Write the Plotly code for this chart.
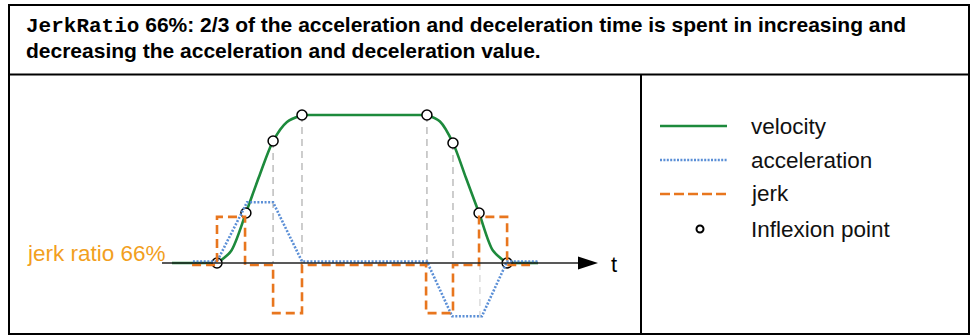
import plotly.graph_objects as go

# ---- data (time in arbitrary units, amplitudes normalised to the velocity plateau) ----
vel_t = [-1.59, 0.0, 0.49, 1.02, 1.48, 1.98, 2.47, 3.0, 7.41, 7.87, 8.33, 8.79, 9.25, 9.74, 10.24, 11.33]
vel_v = [0.0, 0.0, 0.079, 0.338, 0.581, 0.824, 0.953, 1.0, 1.0, 0.956, 0.811, 0.574, 0.338, 0.084, 0.0, 0.0]
# index ranges of the velocity profile: (start, end, curved?)
vel_segments = [(0, 1, False), (1, 7, True), (7, 8, False), (8, 14, True), (14, 15, False)]

acc_t = [-0.85, 0.0, 1.06, 1.98, 3.0, 7.41, 8.3, 9.35, 10.24, 11.33]
acc_v = [0.0, 0.0, 0.40, 0.40, 0.0, 0.0, -0.37, -0.37, 0.0, 0.0]

jerk_t = [-0.88, 0.0, 0.99, 1.98, 3.0, 7.38, 8.33, 9.25, 10.24, 11.05]
jerk_v = [0.0, 0.325, 0.0, -0.325, 0.0, -0.325, 0.0, 0.325, 0.0, 0.0]

infl_t = [0.0, 1.02, 1.98, 3.0, 7.41, 8.33, 9.25, 10.24]
infl_v = [0.0, 0.338, 0.824, 1.0, 1.0, 0.811, 0.338, 0.0]

# guide lines dropped from selected inflexion points (top, bottom)
guide_t = [1.98, 3.0, 7.41, 8.33]
guide_top = [0.824, 1.0, 1.0, 0.811]
guide_light_t = [9.28]
guide_light_v = [-0.37]

legend_labels = ["velocity", "acceleration", "jerk", "Inflexion point"]
header_mono = "JerkRatio"
header_line1 = " 66%: 2/3 of the acceleration and deceleration time is spent in increasing and"
header_line2 = "decreasing the acceleration and deceleration value."
ratio_label = "jerk ratio 66%"
axis_label = "t"

# ---- colours ----
GREEN = "#1d8a3c"
BLUE = "#5b8fd6"
ORANGE = "#e8761e"
AMBER = "#f29f1e"
GREY = "#bdbdbd"

W, H = 971, 336
X0, XS = 217.0, 28.33   # pixel of t=0, pixels per time unit
Y0, YS = 263.0, 148.0   # pixel of value 0, pixels per unit


def px(x):
    return x / W


def py(y):
    return 1 - y / H


def t_of(x):
    return (x - X0) / XS


def v_of(y):
    return (Y0 - y) / YS


fig = go.Figure()

# guide lines
for t, top in zip(guide_t, guide_top):
    fig.add_trace(go.Scatter(x=[t, t], y=[top, 0], mode="lines",
                             line=dict(color=GREY, width=1.5, dash="7px,5px"),
                             hoverinfo="skip", showlegend=False))
for t, bot in zip(guide_light_t, guide_light_v):
    fig.add_trace(go.Scatter(x=[t, t], y=[0, bot], mode="lines",
                             line=dict(color="#dcdcdc", width=1.5, dash="7px,5px"),
                             hoverinfo="skip", showlegend=False))

# jerk (slightly below the time axis)
fig.add_trace(go.Scatter(x=jerk_t, y=jerk_v, mode="lines", yaxis="y3",
                         line=dict(color=ORANGE, width=2.6, dash="9px,5px", shape="hv"),
                         showlegend=False))
# acceleration (slightly above the time axis)
fig.add_trace(go.Scatter(x=acc_t, y=acc_v, mode="lines", yaxis="y2",
                         line=dict(color=BLUE, width=2.6, dash="2px,1.6px"),
                         showlegend=False))
# velocity, drawn piecewise so the flat parts stay flat
for i0, i1, curved in vel_segments:
    fig.add_trace(go.Scatter(x=vel_t[i0:i1 + 1], y=vel_v[i0:i1 + 1], mode="lines",
                             line=dict(color=GREEN, width=2.6,
                                       shape="spline" if curved else "linear", smoothing=0.8),
                             showlegend=False))
# inflexion points
fig.add_trace(go.Scatter(x=infl_t, y=infl_v, mode="markers",
                         marker=dict(size=10, color="white", line=dict(color="black", width=1.5)),
                         showlegend=False))

shapes = []
# time axis with arrowhead
shapes.append(dict(type="line", xref="paper", yref="paper",
                   x0=px(162), x1=px(582), y0=py(263), y1=py(263),
                   line=dict(color="#222222", width=1.6)))
shapes.append(dict(type="path", xref="paper", yref="paper",
                   path=f"M {px(598)} {py(263)} L {px(578)} {py(256.5)} L {px(578)} {py(269.5)} Z",
                   fillcolor="black", line=dict(color="black", width=0)))

# frame
frame = dict(color="black", width=2)
shapes.append(dict(type="rect", xref="paper", yref="paper",
                   x0=px(9), x1=px(969), y0=py(5), y1=py(334), line=frame))
shapes.append(dict(type="line", xref="paper", yref="paper",
                   x0=px(9), x1=px(969), y0=py(74.5), y1=py(74.5), line=frame))
shapes.append(dict(type="line", xref="paper", yref="paper",
                   x0=px(641), x1=px(641), y0=py(74.5), y1=py(334), line=frame))

# legend samples
lx0, lx1 = 660, 727
rows = [126, 160, 194, 229]
shapes.append(dict(type="line", xref="paper", yref="paper", x0=px(lx0), x1=px(lx1),
                   y0=py(rows[0]), y1=py(rows[0]), line=dict(color=GREEN, width=2.6)))
shapes.append(dict(type="line", xref="paper", yref="paper", x0=px(lx0), x1=px(lx1),
                   y0=py(rows[1]), y1=py(rows[1]), line=dict(color=BLUE, width=2.4, dash="2px,1.4px")))
shapes.append(dict(type="line", xref="paper", yref="paper", x0=px(lx0), x1=px(lx1),
                   y0=py(rows[2]), y1=py(rows[2]), line=dict(color=ORANGE, width=2.6, dash="10px,4px")))
shapes.append(dict(type="circle", xref="paper", yref="paper",
                   x0=px(696.5), x1=px(703.5), y0=py(232.5), y1=py(225.5),
                   fillcolor="white", line=dict(color="black", width=2)))

annotations = []
FONT = "Liberation Sans, Arial, sans-serif"
for label, y in zip(legend_labels, rows):
    annotations.append(dict(xref="paper", yref="paper", x=px(749), y=py(y), text=label,
                            xanchor="left", yanchor="middle", showarrow=False,
                            font=dict(family=FONT, size=22.5, color="#111111")))

annotations.append(dict(xref="paper", yref="paper", x=px(24), y=py(26),
                        text=f"<span style=\"font-family:'Liberation Mono','Courier New',monospace\">{header_mono}</span>{header_line1}",
                        xanchor="left", yanchor="middle", showarrow=False,
                        font=dict(family=FONT, size=21, color="black", weight="bold")))
annotations.append(dict(xref="paper", yref="paper", x=px(24), y=py(50), text=header_line2,
                        xanchor="left", yanchor="middle", showarrow=False,
                        font=dict(family=FONT, size=21, color="black", weight="bold")))

annotations.append(dict(xref="paper", yref="paper", x=px(25), y=py(253), text=ratio_label,
                        xanchor="left", yanchor="middle", showarrow=False,
                        font=dict(family=FONT, size=22.5, color=AMBER)))
annotations.append(dict(xref="paper", yref="paper", x=px(609), y=py(264), text=axis_label,
                        xanchor="left", yanchor="middle", showarrow=False,
                        font=dict(family=FONT, size=22, color="black")))

xr = [t_of(0), t_of(W)]
yr = [v_of(H), v_of(0)]
off_acc = 1.5 / YS
off_jerk = -2.0 / YS

hidden = dict(visible=False, showgrid=False, zeroline=False, fixedrange=True)
fig.update_layout(
    width=W, height=H,
    margin=dict(l=0, r=0, t=0, b=0, pad=0),
    paper_bgcolor="white", plot_bgcolor="white",
    xaxis=dict(range=xr, domain=[0, 1], **hidden),
    yaxis=dict(range=yr, domain=[0, 1], **hidden),
    yaxis2=dict(range=[yr[0] - off_acc, yr[1] - off_acc], overlaying="y", **hidden),
    yaxis3=dict(range=[yr[0] - off_jerk, yr[1] - off_jerk], overlaying="y", **hidden),
    shapes=shapes,
    annotations=annotations,
    showlegend=False,
)

fig.write_html("out.html", config={"displayModeBar": False})
